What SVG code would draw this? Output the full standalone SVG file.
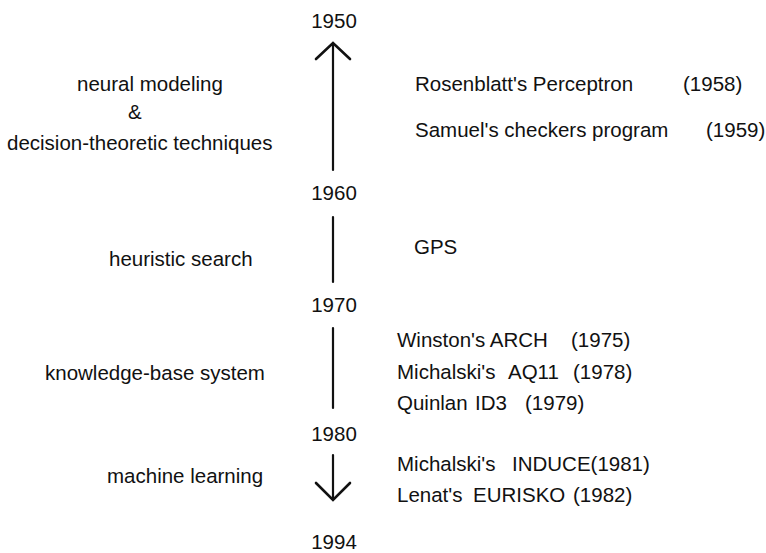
<svg xmlns="http://www.w3.org/2000/svg" width="766" height="553" viewBox="0 0 766 553">
<style>
text{font-family:"Liberation Sans",Arial,sans-serif;font-size:20.5px;fill:#111}
.yr{text-anchor:middle}
.ln{stroke:#111;stroke-width:2.2;fill:none;stroke-linecap:round;stroke-linejoin:round}
.hd{stroke:#111;stroke-width:2.6;fill:none;stroke-linecap:round;stroke-linejoin:miter}
</style>
<rect width="766" height="553" fill="#fff"/>
<g id="connectors">
<path class="ln" d="M333 44V170"/>
<path class="hd" d="M316 59L333 43L350 59"/>
<path class="ln" d="M333 217V282"/>
<path class="ln" d="M333 328V408"/>
<path class="ln" d="M333 455V499"/>
<path class="hd" d="M316 483L333 500L350 483"/>
</g>
<g id="y1950"><text class="yr" x="334" y="28">1950</text></g>
<g id="y1960"><text class="yr" x="334" y="200">1960</text></g>
<g id="y1970"><text class="yr" x="334" y="312">1970</text></g>
<g id="y1980"><text class="yr" x="334" y="441">1980</text></g>
<g id="y1994"><text class="yr" x="334" y="549">1994</text></g>
<g id="era1">
<text x="77" y="91">neural modeling</text>
<text x="128" y="119">&amp;</text>
<text x="7" y="150">decision-theoretic techniques</text>
</g>
<g id="era2"><text x="109" y="266">heuristic search</text></g>
<g id="era3"><text x="45" y="380">knowledge-base system</text></g>
<g id="era4"><text x="107" y="483">machine learning</text></g>
<g id="w1"><text x="415" y="91">Rosenblatt's Perceptron<tspan x="683">(1958)</tspan></text></g>
<g id="w2"><text x="415" y="137">Samuel's checkers program<tspan x="706">(1959)</tspan></text></g>
<g id="w3"><text x="414" y="254">GPS</text></g>
<g id="w4"><text x="397" y="347">Winston's ARCH<tspan x="571">(1975)</tspan></text></g>
<g id="w5"><text x="397" y="379">Michalski's<tspan x="508">AQ11</tspan><tspan x="573">(1978)</tspan></text></g>
<g id="w6"><text x="397" y="410">Quinlan<tspan x="475">ID3</tspan><tspan x="525">(1979)</tspan></text></g>
<g id="w7"><text x="397" y="471">Michalski's<tspan x="512">INDUCE(1981)</tspan></text></g>
<g id="w8"><text x="397" y="502">Lenat's<tspan x="473">EURISKO</tspan><tspan x="573">(1982)</tspan></text></g>
</svg>
